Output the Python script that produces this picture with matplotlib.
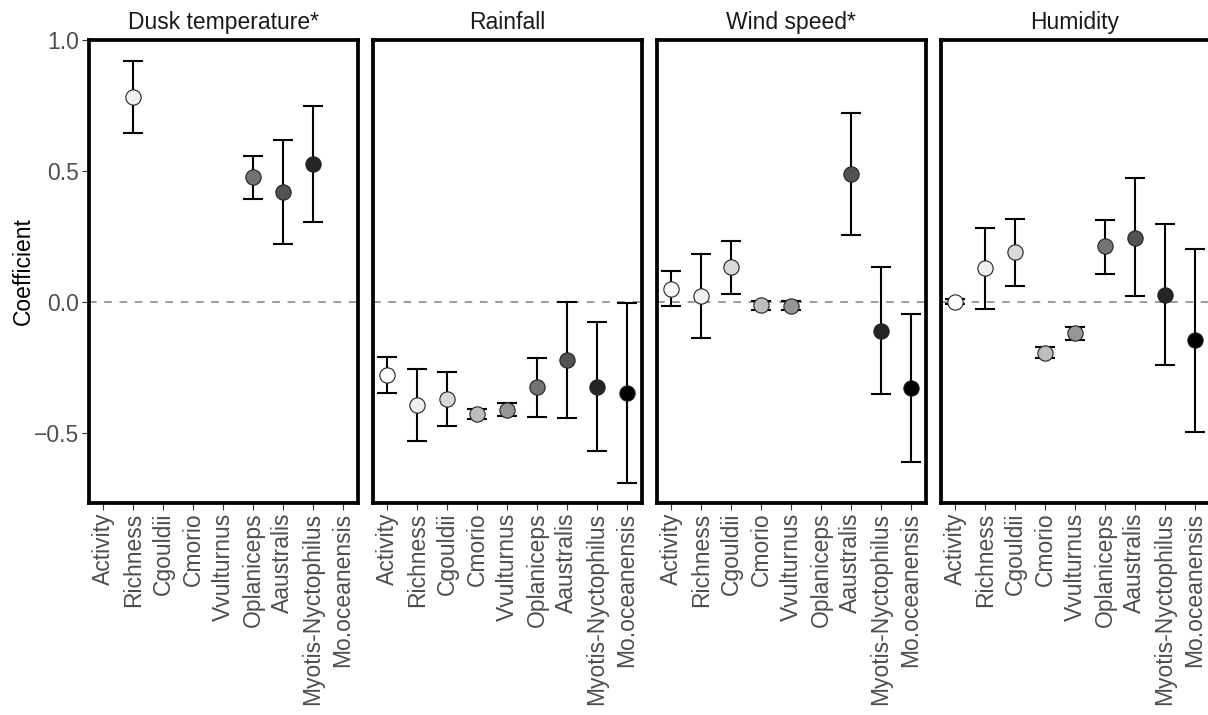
"""
Model coefficients (with 95% CI) per response variable, one panel per
weather covariate. Grey fill runs from white (Activity) to black
(Mo.oceanensis).

Output: out.png
"""
import numpy as np
import matplotlib.pyplot as plt

plt.rcParams["font.family"] = ["Liberation Sans", "DejaVu Sans"]

NAN = np.nan

RESPONSES = ["Activity", "Richness", "Cgouldii", "Cmorio", "Vvulturnus",
             "Oplaniceps", "Aaustralis", "Myotis-Nyctophilus", "Mo.oceanensis"]
PANELS = ["Dusk temperature*", "Rainfall", "Wind speed*", "Humidity"]

# ── Coefficient estimates and interval bounds ────────────────────────────────
est_dusk = [NAN, 0.781, NAN, NAN, NAN, 0.476, 0.419, 0.526, NAN]
lo_dusk  = [NAN, 0.644, NAN, NAN, NAN, 0.394, 0.222, 0.306, NAN]
hi_dusk  = [NAN, 0.919, NAN, NAN, NAN, 0.559, 0.617, 0.747, NAN]

est_rain = [-0.277, -0.390, -0.369, -0.426, -0.409, -0.323, -0.220, -0.321, -0.346]
lo_rain  = [-0.346, -0.527, -0.473, -0.446, -0.434, -0.439, -0.441, -0.567, -0.689]
hi_rain  = [-0.207, -0.255, -0.265, -0.407, -0.385, -0.211,  0.003, -0.076, -0.003]

est_wind = [0.051,  0.025, 0.135, -0.010, -0.014, NAN, 0.488, -0.110, -0.326]
lo_wind  = [-0.014, -0.136, 0.032, -0.028, -0.030, NAN, 0.258, -0.351, -0.609]
hi_wind  = [0.119,  0.183, 0.232,  0.006,  0.006, NAN, 0.722,  0.133, -0.043]

est_hum = [0.003,  0.129, 0.192, -0.192, -0.118, 0.213, 0.247,  0.028, -0.145]
lo_hum  = [-0.008, -0.026, 0.063, -0.213, -0.145, 0.108, 0.023, -0.240, -0.493]
hi_hum  = [0.014,  0.282, 0.319, -0.171, -0.094, 0.315, 0.474,  0.300,  0.202]

GREYS = ["#FFFFFF", "#F0F0F0", "#D9D9D9", "#BDBDBD", "#969696",
         "#737373", "#525252", "#252525", "#000000"]

panel_data = [
    (est_dusk, lo_dusk, hi_dusk),
    (est_rain, lo_rain, hi_rain),
    (est_wind, lo_wind, hi_wind),
    (est_hum, lo_hum, hi_hum),
]

# ── Layout (pixels -> figure fractions) ──────────────────────────────────────
W, H = 1208, 715
FS = 16.5
fig = plt.figure(figsize=(W / 100, H / 100), dpi=100)

left0, pw, step = 88.5, 269.0, 284.0
top_px, bot_px = 40.0, 503.0

x = np.arange(len(RESPONSES))
for i, (name, (est, lo, hi)) in enumerate(zip(PANELS, panel_data)):
    ax = fig.add_axes([(left0 + i * step) / W, 1 - bot_px / H,
                       pw / W, (bot_px - top_px) / H])
    est = np.asarray(est, dtype=float)
    lo = np.asarray(lo, dtype=float)
    hi = np.asarray(hi, dtype=float)

    ax.axhline(0, color="#808080", lw=1.1, ls=(0, (5, 5)), zorder=1)
    for j in range(len(RESPONSES)):
        if np.isnan(est[j]):
            continue
        ax.errorbar(x[j], est[j], yerr=[[est[j] - lo[j]], [hi[j] - est[j]]],
                    fmt="none", ecolor="black", elinewidth=1.5, capsize=7.5,
                    capthick=1.5, zorder=2)
        ax.plot(x[j], est[j], "o", ms=11, mfc=GREYS[j], mec="#222222",
                mew=0.8, zorder=3)

    ax.set_xlim(-0.5, len(RESPONSES) - 0.5)
    ax.set_ylim(-0.765, 0.998)
    ax.set_xticks(x)
    ax.set_xticklabels(RESPONSES, rotation=90, fontsize=FS, color="#4D4D4D")
    ax.set_yticks([-0.5, 0.0, 0.5, 1.0])
    ax.tick_params(axis="both", length=5, width=0.8, color="#333333", pad=2)
    if i == 0:
        ax.set_yticklabels(["\u22120.5", "0.0", "0.5", "1.0"],
                           fontsize=FS, color="#4D4D4D")
        ax.set_ylabel("Coefficient", fontsize=FS, color="black",
                      ha="center", va="center")
        ax.yaxis.set_label_coords((23 - left0) / pw, 0.5)
    else:
        ax.tick_params(axis="y", left=False, labelleft=False)
    for sp in ax.spines.values():
        sp.set_linewidth(2.7)
        sp.set_color("black")
    ax.set_title(name, fontsize=FS, color="#1A1A1A", pad=8)

fig.savefig("out.png", dpi=100)
